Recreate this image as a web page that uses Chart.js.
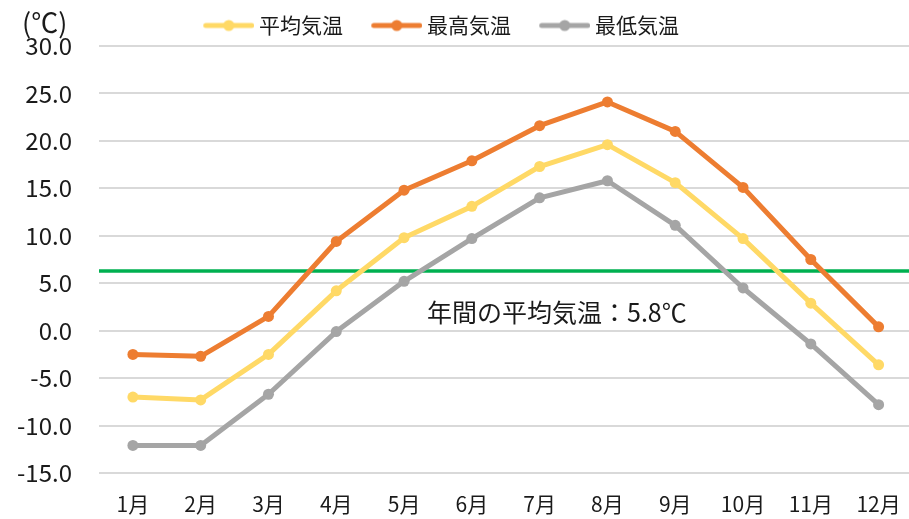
<!DOCTYPE html>
<html>
<head>
<meta charset="utf-8">
<script src="https://cdn.jsdelivr.net/npm/chart.js@4.4.1/dist/chart.umd.min.js"></script>
<style>
html,body{margin:0;padding:0;background:#fff;overflow:hidden;width:909px;height:519px}
#wrap{position:absolute;left:-54px;top:0;width:972px;height:519px}
</style>
</head>
<body>
<div id="wrap"><canvas id="c"></canvas></div>
<script>
// ---- data ----
const months = ['1月','2月','3月','4月','5月','6月','7月','8月','9月','10月','11月','12月'];
const seriesNames = ['平均気温','最高気温','最低気温'];
const avgTemp = [-7.0, -7.3, -2.5, 4.2, 9.8, 13.1, 17.3, 19.6, 15.6, 9.7, 2.9, -3.6];
const maxTemp = [-2.5, -2.7, 1.5, 9.4, 14.8, 17.9, 21.6, 24.1, 21.0, 15.1, 7.5, 0.4];
const minTemp = [-12.1, -12.1, -6.7, -0.1, 5.2, 9.7, 14.0, 15.8, 11.1, 4.5, -1.4, -7.8];
const annualLineValue = 6.3;
const annualLabel = '年間の平均気温：5.8℃';
const unitLabel = '(℃)';
const yTickMin = -15, yTickMax = 30, yTickStep = 5;

// ---- styles ----
const colors = ['#FFD966', '#ED7D31', '#A5A5A5'];
const lineColor = '#00B050';
const textColor = '#1a1a1a';
const FONT = "'Noto Sans CJK JP', 'Noto Sans', sans-serif";
const SHIFT = 54; // canvas is offset left by this amount

function legendSwatch(color) {
  const c = document.createElement('canvas');
  c.width = 75; c.height = 14;
  const g = c.getContext('2d');
  g.strokeStyle = color; g.lineWidth = 5; g.lineCap = 'round';
  g.beginPath(); g.moveTo(26.5, 7); g.lineTo(72.5, 7); g.stroke();
  g.fillStyle = color;
  g.beginPath(); g.arc(49.5, 7, 5.5, 0, Math.PI * 2); g.fill();
  return c;
}
const swatches = colors.map(legendSwatch);

function series(label, data, color) {
  return {
    label, data,
    xAxisID: 'x', yAxisID: 'y',
    borderColor: color, backgroundColor: color,
    pointBackgroundColor: color, pointBorderColor: color,
    borderWidth: 5, pointRadius: 5.5, pointBorderWidth: 0,
    pointHoverRadius: 5.5, tension: 0, order: 1,
    borderCapStyle: 'round', borderJoinStyle: 'round'
  };
}

const textPlugin = {
  id: 'texts',
  afterDraw(chart) {
    const ctx = chart.ctx;
    ctx.save();
    ctx.fillStyle = textColor;
    ctx.textBaseline = 'middle';
    ctx.textAlign = 'left';
    ctx.font = '27px ' + FONT;
    ctx.fillText(unitLabel, 22 + SHIFT, 23);
    ctx.font = '25px ' + FONT;
    ctx.fillText(annualLabel, chart.chartArea.left + 328, 312);
    ctx.restore();
  }
};

new Chart(document.getElementById('c'), {
  type: 'line',
  data: {
    labels: months,
    datasets: [
      series(seriesNames[0], avgTemp, colors[0]),
      series(seriesNames[1], maxTemp, colors[1]),
      series(seriesNames[2], minTemp, colors[2]),
      {
        label: 'annual',
        data: [{x: 0, y: annualLineValue}, {x: 1, y: annualLineValue}],
        xAxisID: 'xLine', yAxisID: 'y',
        borderColor: lineColor, backgroundColor: lineColor,
        borderWidth: 3.5, pointRadius: 0, order: 10
      }
    ]
  },
  options: {
    responsive: true,
    maintainAspectRatio: false,
    animation: false,
    layout: { padding: { top: 5, right: 0, bottom: 2, left: 0 } },
    plugins: {
      tooltip: { enabled: false },
      legend: {
        position: 'top',
        align: 'center',
        labels: {
          usePointStyle: true,
          pointStyleWidth: 63.5,
          padding: 10,
          color: textColor,
          font: { family: FONT, size: 21 },
          filter: (item) => item.datasetIndex < 3,
          generateLabels(chart) {
            const items = Chart.defaults.plugins.legend.labels.generateLabels(chart);
            items.forEach(it => { if (it.datasetIndex < 3) it.pointStyle = swatches[it.datasetIndex]; });
            return items;
          }
        }
      }
    },
    scales: {
      x: {
        type: 'category',
        offset: true,
        grid: { display: false, drawTicks: false },
        border: { display: false },
        ticks: { color: textColor, font: { family: FONT, size: 21, lineHeight: 1.5 }, padding: 15, maxRotation: 0 },
        afterFit(scale) { scale.height = 44; }
      },
      xLine: {
        type: 'linear', display: false, min: 0, max: 1, offset: false
      },
      y: {
        min: yTickMin, max: yTickMax,
        ticks: {
          stepSize: yTickStep,
          color: textColor,
          font: { family: FONT, size: 24 },
          padding: 27,
          callback: (v) => Number(v).toFixed(1)
        },
        grid: { color: '#D9D9D9', lineWidth: 2, drawTicks: false },
        border: { display: false },
        afterFit(scale) { scale.width = 99 + SHIFT; }
      }
    }
  },
  plugins: [textPlugin]
});
</script>
</body>
</html>
